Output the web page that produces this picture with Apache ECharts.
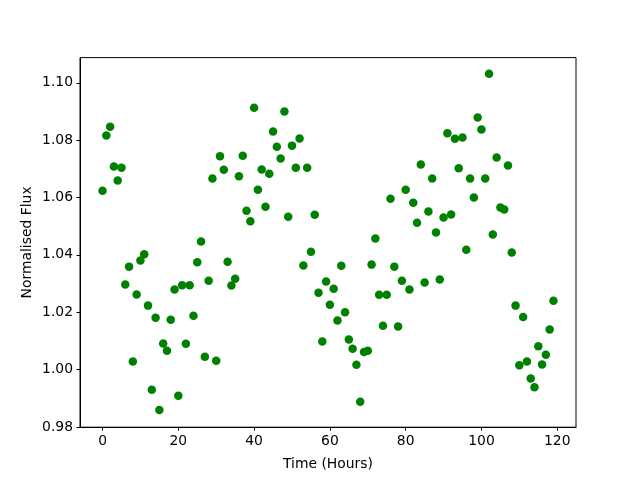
<!DOCTYPE html>
<html lang="en">
<head>
    <meta charset="UTF-8">
    <title>Normalised Flux</title>
    <script src="https://cdn.jsdelivr.net/npm/echarts@6/dist/echarts.min.js"></script>
    <style>
        html, body {margin: 0; padding: 0; background: #fff;}
    </style>
</head>
<body>
<div id="chart" style="width: 640px;height:480px;"></div>
<script>
    // time of each observation (hours)
    let hours = [
        0, 1, 2, 3, 4, 5, 6, 7, 8, 9, 10, 11, 12, 13, 14, 15, 16, 17, 18, 19,
        20, 21, 22, 23, 24, 25, 26, 27, 28, 29, 30, 31, 32, 33, 34, 35, 36, 37, 38, 39,
        40, 41, 42, 43, 44, 45, 46, 47, 48, 49, 50, 51, 52, 53, 54, 55, 56, 57, 58, 59,
        60, 61, 62, 63, 64, 65, 66, 67, 68, 69, 70, 71, 72, 73, 74, 75, 76, 77, 78, 79,
        80, 81, 82, 83, 84, 85, 86, 87, 88, 89, 90, 91, 92, 93, 94, 95, 96, 97, 98, 99,
        100, 101, 102, 103, 104, 105, 106, 107, 108, 109, 110, 111, 112, 113, 114, 115, 116, 117, 118, 119
    ];
    let flux = [
        1.0624, 1.0816, 1.0847, 1.0708, 1.0659, 1.0704, 1.0297, 1.0359, 1.0028, 1.0262,
        1.0380, 1.0402, 1.0223, 0.9930, 1.0181, 0.9859, 1.0091, 1.0066, 1.0174, 1.0279,
        0.9909, 1.0294, 1.0090, 1.0294, 1.0188, 1.0374, 1.0447, 1.0045, 1.0310, 1.0666,
        1.0031, 1.0744, 1.0697, 1.0376, 1.0293, 1.0317, 1.0674, 1.0746, 1.0554, 1.0517,
        1.0913, 1.0627, 1.0698, 1.0568, 1.0683, 1.0830, 1.0777, 1.0736, 1.0900, 1.0533,
        1.0781, 1.0704, 1.0806, 1.0363, 1.0704, 1.0411, 1.0540, 1.0268, 1.0098, 1.0307,
        1.0226, 1.0282, 1.0171, 1.0362, 1.0200, 1.0105, 1.0073, 1.0017, 0.9888, 1.0061,
        1.0066, 1.0366, 1.0457, 1.0261, 1.0153, 1.0261, 1.0596, 1.0359, 1.0150, 1.0310,
        1.0627, 1.0279, 1.0582, 1.0512, 1.0715, 1.0304, 1.0551, 1.0666, 1.0478, 1.0314,
        1.0530, 1.0824, 1.0541, 1.0805, 1.0702, 1.0809, 1.0418, 1.0666, 1.0600, 1.0879,
        1.0837, 1.0666, 1.1032, 1.0471, 1.0740, 1.0565, 1.0558, 1.0712, 1.0408, 1.0223,
        1.0015, 1.0183, 1.0028, 0.9969, 0.9938, 1.0081, 1.0018, 1.0052, 1.0140, 1.0240
    ];
    let xTicks = [0, 20, 40, 60, 80, 100, 120];
    let yTicks = [0.98, 1.00, 1.02, 1.04, 1.06, 1.08, 1.10];

    let points = hours.map(function (h, i) {
        return [h, flux[i]];
    });

    let font = 'DejaVu Sans';
    let myChart = echarts.init(document.getElementById('chart'));
    let option = {
        animation: false,
        backgroundColor: '#fff',
        grid: {
            left: 80, right: 64, top: 57.6, bottom: 52.8,
            show: true, borderColor: '#000', borderWidth: 1,
            containLabel: false
        },
        xAxis: {
            type: 'value',
            min: -5.95,
            max: 124.95,
            name: 'Time (Hours)',
            nameLocation: 'middle',
            nameGap: 30,
            nameTextStyle: {fontFamily: font, fontSize: 13.9, color: '#000'},
            axisLine: {show: true, onZero: false, lineStyle: {color: '#000', width: 1}},
            axisTick: {show: true, length: 3.5, lineStyle: {color: '#000'}, customValues: xTicks},
            axisLabel: {
                fontFamily: font, fontSize: 13.9, color: '#000', margin: 7,
                customValues: xTicks,
                formatter: function (v) { return String(v); }
            },
            splitLine: {show: false}
        },
        yAxis: {
            type: 'value',
            min: 0.9799,
            max: 1.1088,
            name: 'Normalised Flux',
            nameLocation: 'middle',
            nameGap: 46,
            nameMoveOverlap: false,
            nameTextStyle: {fontFamily: font, fontSize: 13.9, color: '#000'},
            axisLine: {show: true, onZero: false, lineStyle: {color: '#000', width: 1}},
            axisTick: {show: true, length: 3.5, lineStyle: {color: '#000'}, customValues: yTicks},
            axisLabel: {
                fontFamily: font, fontSize: 13.9, color: '#000', margin: 7,
                customValues: yTicks,
                formatter: function (v) { return v.toFixed(2); }
            },
            splitLine: {show: false}
        },
        series: [
            {
                type: 'scatter',
                data: points,
                symbol: 'circle',
                symbolSize: 8.5,
                itemStyle: {color: '#008000', opacity: 1}
            }
        ]
    };
    myChart.setOption(option);
</script>
</body>
</html>
